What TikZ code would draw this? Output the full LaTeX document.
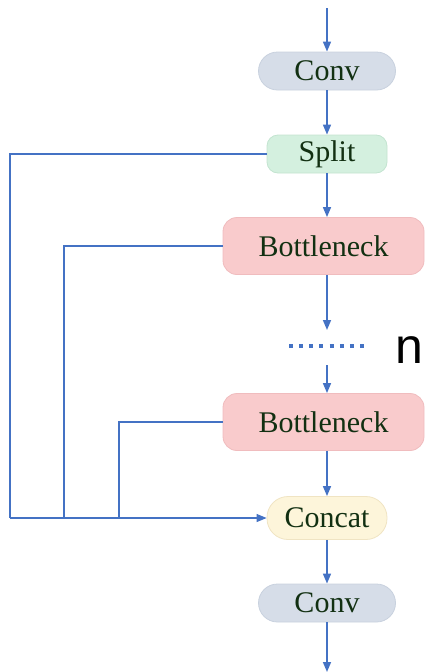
\documentclass[tikz,border=0pt]{standalone}
\usepackage{fontspec}
\setmainfont{Liberation Serif}
\newfontfamily\labelsans{Liberation Sans}
\usetikzlibrary{arrows.meta}
\definecolor{flow}{RGB}{68,114,196}
\definecolor{txt}{RGB}{18,48,18}
\definecolor{convfill}{RGB}{214,221,232}
\definecolor{convline}{RGB}{200,209,222}
\definecolor{splitfill}{RGB}{212,240,223}
\definecolor{splitline}{RGB}{195,228,208}
\definecolor{neckfill}{RGB}{249,203,204}
\definecolor{neckline}{RGB}{240,188,190}
\definecolor{catfill}{RGB}{253,245,218}
\definecolor{catline}{RGB}{240,228,195}
\tikzset{
  block/.style={draw, line width=0.8pt, text=txt, font=\fontsize{30}{32}\selectfont,
    inner sep=0pt, anchor=center},
  convbox/.style={block, fill=convfill, draw=convline, minimum width=137pt, minimum height=38pt, rounded corners=19pt},
  splitbox/.style={block, fill=splitfill, draw=splitline, minimum width=120pt, minimum height=38pt, rounded corners=11pt},
  neckbox/.style={block, fill=neckfill, draw=neckline, minimum width=201pt, minimum height=57pt, rounded corners=14pt},
  catbox/.style={block, fill=catfill, draw=catline, minimum width=120pt, minimum height=43pt, rounded corners=21pt},
  flowarrow/.style={draw=flow, line width=1.6pt, -{Triangle[length=10pt,width=8pt]}},
  branch/.style={draw=flow, line width=1.1pt},
}
\begin{document}
\begin{tikzpicture}[x=1pt,y=-1pt]
  \useasboundingbox (0,0) rectangle (426,672);

  % main column
  \node[convbox]  (conv1) at (327,71)  {Conv};
  \node[splitbox] (split) at (327,154) {Split};
  \node[neckbox]  (neck1) at (323.5,246) {Bottleneck};
  \node[neckbox]  (neck2) at (323.5,422) {Bottleneck};
  \node[catbox]   (cat)   at (327,518) {Concat};
  \node[convbox]  (conv2) at (327,603) {Conv};

  % repeated part marker
  \coordinate (dotsL) at (289,346);
  \coordinate (dotsR) at (364,346);
  \coordinate (gapT) at (327,330);
  \coordinate (gapB) at (327,365);
  \node[font=\labelsans\fontsize{50}{50}\selectfont, text=black, anchor=center] (rep) at (409,350) {n};

  % input / output ends
  \coordinate (in)  at (327,8);
  \coordinate (out) at (327,672);

  % vertical flow (all on the axis x = 327)
  \path[flowarrow] (in) -- (conv1.north);
  \path[flowarrow] (conv1.south) -- (split.north);
  \path[flowarrow] (split.south) -- (split.south |- neck1.north);
  \path[flowarrow] (split.south |- neck1.south) -- (gapT);
  \path[flowarrow] (gapB) -- (gapB |- neck2.north);
  \path[flowarrow] (gapB |- neck2.south) -- (cat.north);
  \path[flowarrow] (cat.south) -- (conv2.north);
  \path[flowarrow] (conv2.south) -- (out);

  \draw[flow, line width=4pt, dash pattern=on 4pt off 6.15pt] (dotsL) -- (dotsR);

  % side branches into Concat
  \coordinate (b0) at (10,518);
  \coordinate (b1) at (64,518);
  \coordinate (b2) at (119,518);
  \path[branch] (split.west) -| (b0);
  \path[branch] (neck1.west) -| (b1);
  \path[branch] (neck2.west) -| (b2);
  \path[branch, -{Triangle[length=10pt,width=8pt]}] (b0) -- (cat.west);
\end{tikzpicture}
\end{document}
